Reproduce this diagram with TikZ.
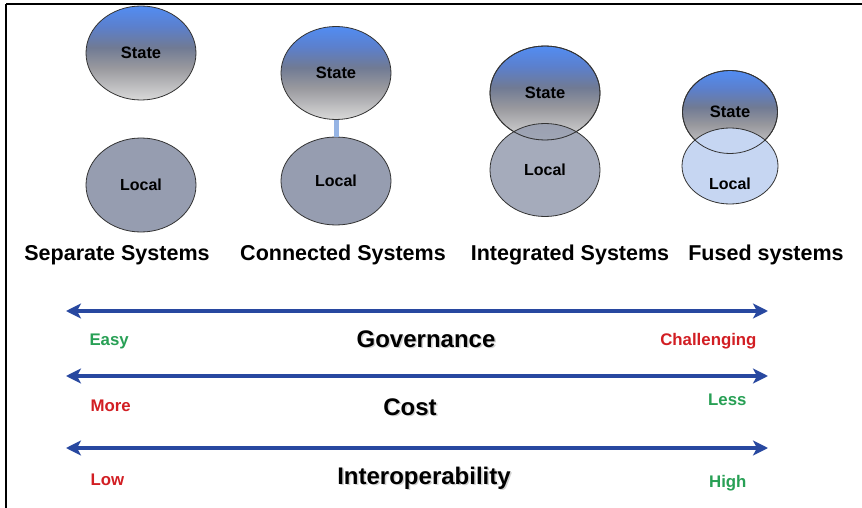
\documentclass[tikz,border=0pt]{standalone}
\usepackage{fontspec}
\setmainfont{Liberation Sans}
\usetikzlibrary{shapes.geometric,arrows.meta}

\definecolor{localgray}{RGB}{150,157,176}
\definecolor{localpale}{RGB}{198,214,242}
\definecolor{linkblue}{RGB}{150,180,228}
\definecolor{barblue}{RGB}{40,72,160}
\definecolor{okgreen}{RGB}{40,160,85}
\definecolor{warnred}{RGB}{210,30,35}

% blue-to-grey fill of the State bubbles (bottom to top)
\pgfdeclareverticalshading{stategrad}{100bp}{%
  rgb(0bp)=(0.85,0.85,0.85); rgb(25bp)=(0.85,0.85,0.85);
  rgb(42bp)=(0.60,0.60,0.62); rgb(53bp)=(0.44,0.48,0.58);
  rgb(64bp)=(0.36,0.50,0.80); rgb(75bp)=(0.32,0.55,0.95);
  rgb(100bp)=(0.32,0.55,0.95)}

\tikzset{
  statebub/.style={ellipse, draw=black!80, line width=0.8pt, inner sep=0pt,
    shading=stategrad, font=\bfseries\fontsize{16.5}{18}\selectfont},
  localbub/.style={ellipse, draw=black!80, line width=0.8pt, inner sep=0pt,
    fill=localgray, font=\bfseries\fontsize{16}{18}\selectfont},
  rim/.style={ellipse, draw=black!80, line width=0.8pt, inner sep=0pt},
  systitle/.style={font=\bfseries\fontsize{21.5}{24}\selectfont},
  scaletitle/.style={font=\bfseries\fontsize{24}{27}\selectfont},
  endlabel/.style={font=\bfseries\fontsize{16.8}{19}\selectfont},
  scalebar/.style={draw=barblue, line width=3.6pt,
    {Stealth[length=15pt,width=15pt,inset=4pt]}-{Stealth[length=15pt,width=15pt,inset=4pt]}},
  framerule/.style={line width=2.4pt, black}
}

\begin{document}
\begin{tikzpicture}[x=1pt,y=-1pt]
\useasboundingbox (0,0) rectangle (862,508);
\fill[white] (0,0) rectangle (862,508);

% frame
\draw[framerule] (6,4) -- (862,4);
\draw[framerule] (6,4) -- (6,508);

% separate systems
\node[statebub, minimum width=110pt, minimum height=94pt] (s1) at (141,53) {State};
\node[localbub, minimum width=110pt, minimum height=94pt] (l1) at (141,185) {Local};

% connected systems
\node[statebub, minimum width=110pt, minimum height=93pt] (s2) at (336,73) {State};
\node[localbub, minimum width=110pt, minimum height=88pt] (l2) at (336,181) {Local};
\draw[linkblue, line width=5pt] (s2.south) -- (l2.north);

% integrated systems
\node[statebub, minimum width=110pt, minimum height=94pt] (s3) at (545,93) {State};
\node[localbub, minimum width=110pt, minimum height=93pt, fill opacity=0.85, text opacity=1] (l3) at (545,170) {Local};
\node[rim, minimum width=110pt, minimum height=94pt] (s3rim) at (545,93) {};

% fused systems
\node[statebub, minimum width=95pt, minimum height=83pt] (s4) at (730,112) {State};
\node[rim, fill=localpale, minimum width=96pt, minimum height=76pt] (l4) at (730,166) {};
\node[rim, minimum width=95pt, minimum height=83pt] (s4rim) at (730,112) {};
\node[font=\bfseries\fontsize{16}{18}\selectfont] (l4text) at (730,184) {Local};

% system titles
\node[systitle] (t1) at (117,255) {Separate Systems};
\node[systitle] (t2) at (343,255) {Connected Systems};
\node[systitle] (t3) at (570,255) {Integrated Systems};
\node[systitle] (t4) at (766,255) {Fused systems};

% scales
\coordinate (g1) at (66,311); \coordinate (g2) at (768,311);
\coordinate (c1) at (66,376); \coordinate (c2) at (768,376);
\coordinate (i1) at (66,448); \coordinate (i2) at (768,448);
\draw[scalebar] (g1) -- (g2);
\draw[scalebar] (c1) -- (c2);
\draw[scalebar] (i1) -- (i2);

\node[scaletitle, black!25, opacity=0.7] at (427.5,340.5) {Governance};
\node[scaletitle] (gov) at (426,339) {Governance};
\node[scaletitle, black!25, opacity=0.7] at (411.5,408.5) {Cost};
\node[scaletitle] (cost) at (410,407) {Cost};
\node[scaletitle, black!25, opacity=0.7] at (425.5,479.5) {Interoperability};
\node[scaletitle] (iop) at (424,478) {Interoperability};

\node[endlabel, okgreen, anchor=west] (easy) at (86,341) {Easy};
\node[endlabel, warnred, anchor=east] (hard) at (760,341) {Challenging};
\node[endlabel, warnred, anchor=west] (more) at (87,406) {More};
\node[endlabel, okgreen, anchor=east] (less) at (750,400) {Less};
\node[endlabel, warnred, anchor=west] (low) at (87,480) {Low};
\node[endlabel, okgreen, anchor=east] (high) at (750,483) {High};
\end{tikzpicture}
\end{document}
